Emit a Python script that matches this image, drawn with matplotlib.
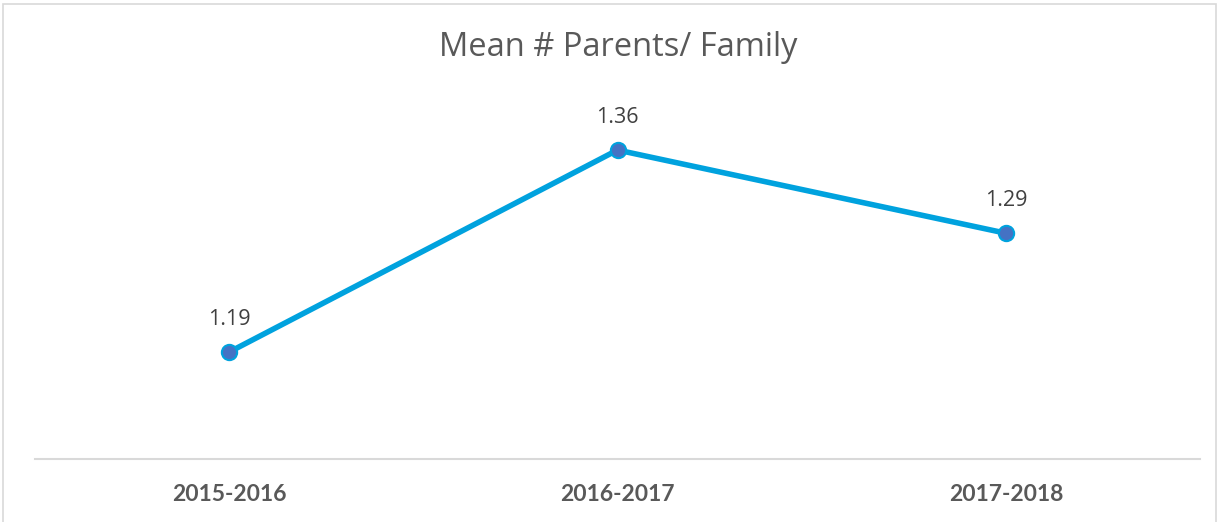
import matplotlib
matplotlib.use("Agg")
import matplotlib.pyplot as plt
from matplotlib.patches import Rectangle

categories = ["2015-2016", "2016-2017", "2017-2018"]
values = [1.19, 1.36, 1.29]
title = "Mean # Parents/ Family"

W, H = 1220, 522
fig = plt.figure(figsize=(W / 100, H / 100), dpi=100)

# chart frame (light grey border, bottom cut off in the source)
fig.patches.append(Rectangle((3 / W, -0.05), 1213 / W, 1.05 - 4 / H, transform=fig.transFigure,
                             fill=False, edgecolor="#d9d9d9", lw=1.2))

ax = fig.add_axes([35 / W, 1 - 459 / H, 1165 / W, (459 - 102.5) / H])
x = range(len(categories))
ax.plot(x, values, color="#00a2de", lw=4.0, marker="o", ms=11,
        mfc="#4472c4", mec="#00a2de", mew=1.5, solid_capstyle="round", zorder=3)
for xi, v in zip(x, values):
    ax.annotate(f"{v:.2f}", (xi, v), xytext=(0, 16), textcoords="offset points",
                ha="center", va="bottom", fontsize=15.5, color="#404040", family="Open Sans")

ax.set_xlim(-0.5, 2.5)
ax.set_ylim(1.1, 1.4)
ax.set_yticks([])
ax.set_xticks(list(x))
ax.set_xticklabels(categories, fontsize=16.5, fontweight="bold", color="#595959", family="Lato")
ax.tick_params(axis="x", length=0, pad=18)
for s in ["top", "right", "left"]:
    ax.spines[s].set_visible(False)
ax.spines["bottom"].set_color("#d9d9d9")
ax.spines["bottom"].set_linewidth(1.5)

fig.text(618 / W, 1 - 48 / H, title, ha="center", va="center", fontsize=23.5,
         color="#595959", family="Open Sans")

fig.savefig("out.png", dpi=100)
